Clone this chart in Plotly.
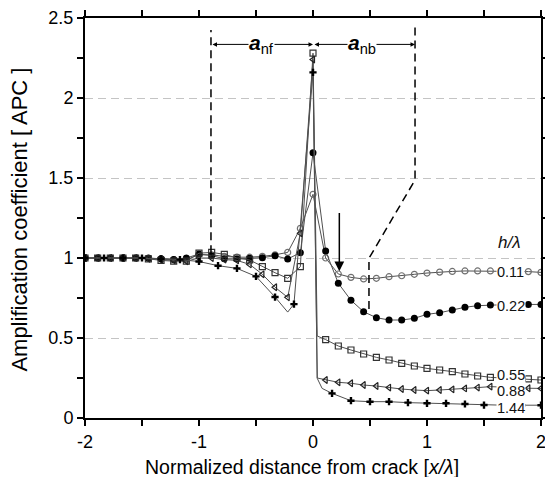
import plotly.graph_objects as go

# ---------------- data ----------------
SERIES_NAMES = ["0.11", "0.22", "0.55", "0.88", "1.44"]

x_011 = [-2.0, -1.889, -1.778, -1.667, -1.556, -1.444, -1.333, -1.222, -1.111, -1.0,
         -0.889, -0.778, -0.667, -0.556, -0.444, -0.333, -0.222, -0.111, 0.0,
         0.111, 0.222, 0.333, 0.444, 0.556, 0.667, 0.778, 0.889, 1.0, 1.111,
         1.222, 1.333, 1.444, 1.556, 1.667, 1.778, 1.889, 2.0]
y_011 = [1.0, 1.0, 1.0, 1.0, 1.0, 0.998, 0.995, 0.99, 0.99, 1.02,
         1.02, 1.01, 1.005, 1.005, 1.01, 1.02, 1.035, 1.185, 1.398,
         1.0, 0.9, 0.879, 0.869, 0.873, 0.883, 0.889, 0.898, 0.906, 0.912,
         0.916, 0.919, 0.919, 0.919, 0.918, 0.917, 0.915, 0.91]

x_022 = list(x_011)
y_022 = [1.0, 1.0, 1.0, 1.0, 1.0, 1.0, 0.995, 0.99, 1.0, 1.025,
         1.015, 0.995, 0.994, 0.998, 1.002, 1.014, 0.994, 1.033, 1.658,
         1.044, 0.842, 0.736, 0.664, 0.627, 0.6125, 0.6125, 0.623, 0.648, 0.658,
         0.675, 0.692, 0.702, 0.706, 0.708, 0.709, 0.71, 0.71]

x_055 = [-2.0, -1.889, -1.778, -1.667, -1.556, -1.444, -1.333, -1.222, -1.111, -1.0,
         -0.889, -0.778, -0.667, -0.556, -0.444, -0.333, -0.222, -0.111, 0.0, 0.037,
         0.111, 0.222, 0.333, 0.444, 0.556, 0.667, 0.778, 0.889, 1.0, 1.111,
         1.222, 1.333, 1.444, 1.556, 1.667, 1.778, 1.889, 2.0]
y_055 = [1.0, 1.0, 1.0, 1.0, 1.0, 0.995, 0.985, 0.98, 0.98, 1.03,
         1.035, 1.023, 1.0, 0.9875, 0.946, 0.908, 0.873, 0.946, 2.28, 0.5125,
         0.49, 0.45, 0.425, 0.4, 0.379, 0.3625, 0.342, 0.325, 0.31, 0.3,
         0.29, 0.275, 0.2625, 0.254, 0.25, 0.247, 0.244, 0.2375]

x_088 = list(x_055)
y_088 = [1.0, 1.0, 1.0, 1.0, 1.0, 0.995, 0.99, 0.985, 0.98, 1.0,
         1.0, 0.99, 0.985, 0.96, 0.898, 0.817, 0.754, 1.154, 2.24, 0.25,
         0.2375, 0.223, 0.217, 0.206, 0.2, 0.19, 0.181, 0.175, 0.171, 0.175,
         0.179, 0.185, 0.19, 0.196, 0.195, 0.19, 0.186, 0.185]

x_144 = [-2.0, -1.833, -1.667, -1.5, -1.333, -1.167, -1.0, -0.833, -0.667, -0.5,
         -0.333, -0.222, -0.167, 0.0, 0.037, 0.08, 0.167, 0.333, 0.5, 0.667,
         0.833, 1.0, 1.167, 1.333, 1.5, 1.667, 1.833, 2.0]
y_144 = [1.0, 1.0, 1.0, 1.0, 0.995, 0.99, 0.978, 0.952, 0.935, 0.885,
         0.756, 0.662, 0.712, 2.16, 0.248, 0.185, 0.154, 0.108, 0.102, 0.102,
         0.096, 0.092, 0.092, 0.0875, 0.081, 0.08, 0.08, 0.08]

# marker spacing (in x/lambda) of each series
MARKER_STEP = [1 / 9, 1 / 9, 1 / 9, 1 / 9, 1 / 6]

LABEL_X = 1.735
LABEL_Y = [0.915, 0.703, 0.268, 0.168, 0.062]

X_TICKS = [-2, -1.5, -1, -0.5, 0, 0.5, 1, 1.5, 2]
X_TICK_TEXT = ["-2", "", "-1", "", "0", "", "1", "", "2"]

# ---------------- styles ----------------
LINE_COLOR = "#505050"
MARKERS = [
    dict(symbol="circle-open", size=6, color="#707070", line=dict(width=1.2, color="#707070")),
    dict(symbol="circle", size=7, color="#000000"),
    dict(symbol="square-open", size=6, color="#333333", line=dict(width=1.2, color="#333333")),
    dict(symbol="triangle-left-open", size=6, color="#222222", line=dict(width=1.2, color="#222222")),
    dict(symbol="cross", size=6, color="#000000"),
]

FONT = "Arial, 'Liberation Sans', sans-serif"

fig = go.Figure()

all_x = [x_011, x_022, x_055, x_088, x_144]
all_y = [y_011, y_022, y_055, y_088, y_144]

for i, (xs, ys) in enumerate(zip(all_x, all_y)):
    fig.add_trace(go.Scatter(x=xs, y=ys, mode="lines",
                             line=dict(color=LINE_COLOR, width=1),
                             hoverinfo="skip", showlegend=False))
    step = MARKER_STEP[i]
    mx, my = [], []
    for xv, yv in zip(xs, ys):
        q = xv / step
        if abs(q - round(q)) < 0.02:
            mx.append(xv)
            my.append(yv)
    fig.add_trace(go.Scatter(x=mx, y=my, mode="markers", marker=MARKERS[i],
                             name=SERIES_NAMES[i], showlegend=False))

# series labels
for name, ly in zip(SERIES_NAMES, LABEL_Y):
    fig.add_annotation(x=LABEL_X, y=ly, text=name, showarrow=False,
                       font=dict(family=FONT, size=14.5, color="#111111"),
                       bgcolor="white", borderpad=0)

fig.add_annotation(x=1.72, y=1.094, text="<i>h/λ</i>", showarrow=False,
                   font=dict(family=FONT, size=17, color="#111111"))

# near-field / near-back zone markers
ANF_LEFT = -0.895
ANB_RIGHT = 0.895
ARROW_Y = 2.335
DASH = "8px,5px"

fig.add_shape(type="line", x0=ANF_LEFT, x1=ANF_LEFT, y0=1.03, y1=2.425,
              line=dict(color="black", width=1.5, dash=DASH))
fig.add_shape(type="path",
              path=f"M {ANB_RIGHT} 2.44 L {ANB_RIGHT} 1.4875 L 0.491 0.998 L 0.491 0.656",
              line=dict(color="black", width=1.5, dash=DASH))

for x0, x1 in [(ANF_LEFT, 0.0), (0.0, ANB_RIGHT)]:
    fig.add_annotation(x=x1, y=ARROW_Y, ax=x0, ay=ARROW_Y, axref="x", ayref="y",
                       xref="x", yref="y", text="", showarrow=True,
                       arrowhead=2, arrowside="end+start", arrowsize=0.9,
                       arrowwidth=1, arrowcolor="black", standoff=0, startstandoff=0)

fig.add_annotation(x=-0.456, y=ARROW_Y, text="<b><i>a</i></b><sub>nf</sub>",
                   showarrow=False, bgcolor="white", borderpad=0,
                   font=dict(family=FONT, size=21, color="black"))
fig.add_annotation(x=0.434, y=ARROW_Y, text="<b><i>a</i></b><sub>nb</sub>",
                   showarrow=False, bgcolor="white", borderpad=0,
                   font=dict(family=FONT, size=21, color="black"))

# downward arrow
fig.add_annotation(x=0.231, y=0.917, ax=0.231, ay=1.29, axref="x", ayref="y",
                   xref="x", yref="y", text="", showarrow=True,
                   arrowhead=2, arrowsize=1.3, arrowwidth=1.5, arrowcolor="black",
                   standoff=0)

# axis titles
fig.add_annotation(xref="paper", yref="paper", x=0.475, y=-0.1225,
                   xanchor="center", yanchor="middle", showarrow=False,
                   text="Normalized distance from crack [<i>x/λ</i>]",
                   font=dict(family=FONT, size=19.5, color="black"))
fig.add_annotation(xref="paper", yref="paper", x=-0.1425, y=0.496,
                   xanchor="center", yanchor="middle", showarrow=False,
                   textangle=-90, text="Amplification coefficient [ APC ]",
                   font=dict(family=FONT, size=22, color="black"))

fig.update_layout(
    width=545, height=477,
    margin=dict(l=85, r=4, t=18, b=59),
    paper_bgcolor="white", plot_bgcolor="white",
    font=dict(family=FONT, size=15, color="black"),
    showlegend=False,
)

fig.update_xaxes(
    range=[-2, 2], tickmode="array", tickvals=X_TICKS, ticktext=X_TICK_TEXT,
    ticks="outside", ticklen=6, tickwidth=1.5, tickcolor="black",
    showline=True, linecolor="black", linewidth=2, mirror="ticks",
    showgrid=False, zeroline=False, automargin=False, ticklabeloverflow="allow",
    tickfont=dict(family=FONT, size=18),
)
fig.update_yaxes(
    range=[0, 2.5], dtick=0.5, tick0=0,
    ticks="outside", ticklen=6, tickwidth=1.5, tickcolor="black",
    minor=dict(dtick=0.25, ticks="outside", ticklen=6, tickwidth=1.5,
               tickcolor="black", showgrid=False),
    showline=True, linecolor="black", linewidth=2, mirror="ticks",
    showgrid=True, gridcolor="#c4c4c4", gridwidth=1, griddash="8px,5px",
    zeroline=False, automargin=False, ticklabeloverflow="allow",
    tickfont=dict(family=FONT, size=18),
)

fig.write_html("out.html", config={"displayModeBar": False},
               post_script="document.body.style.margin='0';document.body.style.overflow='hidden';")
